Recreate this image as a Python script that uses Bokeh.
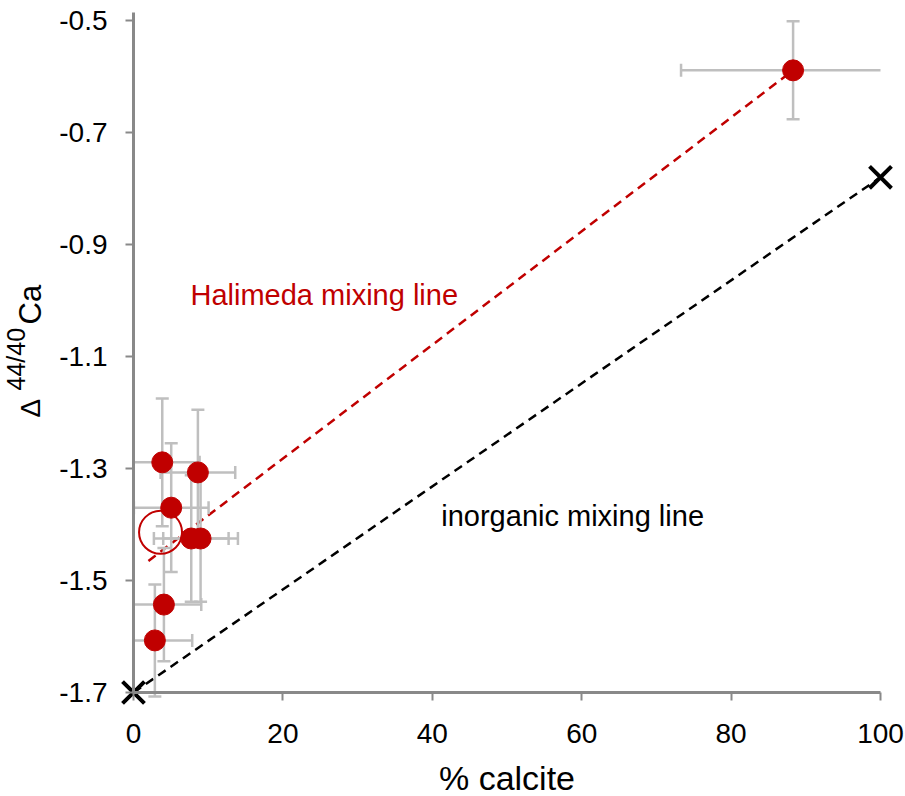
import numpy as np
from bokeh.plotting import figure
from bokeh.models import Range1d, Label, FixedTicker
from bokeh.embed import file_html
from bokeh.resources import INLINE

# ---- data ----
calcite = [3.85, 8.62, 5.05, 7.73, 8.98, 4.07, 2.86, 88.3]
d44 = [-1.289, -1.307, -1.370, -1.425, -1.425, -1.543, -1.607, -0.589]
calcite_err = [5, 5, 5, 5, 5, 5, 5, 15]
d44_err = [0.114, 0.112, 0.115, 0.113, 0.113, 0.101, 0.100, 0.0875]

open_x = [3.62]
open_y = [-1.414]

halimeda_line_x = [2.0, 88.3]
halimeda_line_y = [-1.465, -0.589]

inorganic_x = [0, 100]
inorganic_y = [-1.70, -0.78]

x_ticks = [0, 20, 40, 60, 80, 100]
x_tick_labels = ["0", "20", "40", "60", "80", "100"]
y_ticks = [-1.7, -1.5, -1.3, -1.1, -0.9, -0.7, -0.5]
y_tick_labels = ["-1.7", "-1.5", "-1.3", "-1.1", "-0.9", "-0.7", "-0.5"]

RED = "#C00000"
GREY = "#BFBFBF"
AXIS = "#898989"
FONT = "Liberation Sans"

XMIN, XMAX = 0, 100
YMIN, YMAX = -1.7, -0.4857

# canvas / scale layout (pixels)
W, H = 904, 796
X0_PX, PX_PER_X = 133, 7.47      # where x=0 sits, px per % calcite
YMIN_PX, PX_PER_Y = 692, 560     # where y=-1.7 sits (from top), px per unit

x_range = Range1d(XMIN - X0_PX / PX_PER_X, XMIN + (W - X0_PX) / PX_PER_X)
y_range = Range1d(YMIN - (H - YMIN_PX) / PX_PER_Y, YMIN + YMIN_PX / PX_PER_Y)

p = figure(width=W, height=H, output_backend="svg", toolbar_location=None,
           x_range=x_range, y_range=y_range,
           min_border_left=0, min_border_right=0, min_border_top=0,
           min_border_bottom=0)
p.outline_line_color = None
p.xgrid.visible = False
p.ygrid.visible = False
p.background_fill_color = "white"
p.border_fill_color = "white"

# axes
for ax in (p.xaxis[0], p.yaxis[0]):
    ax.axis_line_color = AXIS
    ax.axis_line_width = 3
    ax.major_tick_line_color = AXIS
    ax.major_tick_line_width = 2
    ax.major_tick_out = 8
    ax.major_tick_in = 0
    ax.minor_tick_line_color = None
    ax.major_label_text_font = FONT
    ax.major_label_text_font_size = "28px"
    ax.major_label_text_color = "black"

p.xaxis.ticker = FixedTicker(ticks=x_ticks)
p.yaxis.ticker = FixedTicker(ticks=y_ticks)
p.xaxis.major_label_overrides = dict(zip(x_ticks, x_tick_labels))
p.yaxis.major_label_overrides = dict(zip(y_ticks, y_tick_labels))
p.xaxis.bounds = (XMIN, XMAX)
p.yaxis.bounds = (YMIN, YMAX)
p.xaxis.fixed_location = YMIN
p.yaxis.fixed_location = XMIN
p.xaxis.major_label_standoff = 23
p.yaxis.major_label_standoff = 18

# mixing lines
p.line(inorganic_x, inorganic_y, line_color="black", line_width=2.5, line_dash="9 6")
p.line(halimeda_line_x, halimeda_line_y, line_color=RED, line_width=2.5, line_dash="9 6")

# error bars (clipped to the axes, no cap where clipped)
x = np.array(calcite, dtype=float)
y = np.array(d44, dtype=float)
xe = np.array(calcite_err, dtype=float)
ye = np.array(d44_err, dtype=float)
xl = np.maximum(x - xe, XMIN)
xr = np.minimum(x + xe, XMAX)
yl = y - ye
yu = y + ye

p.segment(x0=x, y0=yl, x1=x, y1=yu, line_color=GREY, line_width=2.5)
p.segment(x0=xl, y0=y, x1=xr, y1=y, line_color=GREY, line_width=2.5)
p.scatter(np.concatenate([x, x]), np.concatenate([yl, yu]), marker="dash",
          size=13, line_color=GREY, line_width=2.5)
cx = np.concatenate([xl[(x - xe) > XMIN], xr[(x + xe) < XMAX]])
cy = np.concatenate([y[(x - xe) > XMIN], y[(x + xe) < XMAX]])
p.scatter(cx, cy, marker="dash", angle=np.pi / 2, size=13,
          line_color=GREY, line_width=2.5)

# points
p.scatter(calcite, d44, size=21, fill_color=RED, line_color=RED)
p.scatter(open_x, open_y, size=43, fill_color=None, line_color=RED, line_width=2)

# end members
p.scatter(inorganic_x, inorganic_y, marker="x", size=31, line_color="black", line_width=4)

# in-plot labels
p.add_layout(Label(x=7.63, y=-0.990, text="Halimeda mixing line", text_color=RED,
                   text_font=FONT, text_font_size="29px",
                   text_baseline="alphabetic"))
p.add_layout(Label(x=41.2, y=-1.384, text="inorganic mixing line", text_color="black",
                   text_font=FONT, text_font_size="29px",
                   text_baseline="alphabetic"))

# x axis title
p.add_layout(Label(x=50, y=-1.852, text="% calcite", text_color="black",
                   text_font=FONT, text_font_size="34px", text_align="center",
                   text_baseline="alphabetic"))

# y axis title: Δ^{44/40}Ca, built from rotated pieces (screen units)
for txt, sx, sy, fs in [("\u0394", 30, 379, "28px"),
                        ("44/40", 15, 406, "25px"),
                        ("Ca", 30, 472, "31px")]:
    p.add_layout(Label(x=sx, y=sy, x_units="screen", y_units="screen", text=txt,
                       angle=np.pi / 2, text_font=FONT, text_font_size=fs,
                       text_color="black", text_baseline="alphabetic",
                       text_align="left"))

open("out.html", "w").write(file_html(p, INLINE))
